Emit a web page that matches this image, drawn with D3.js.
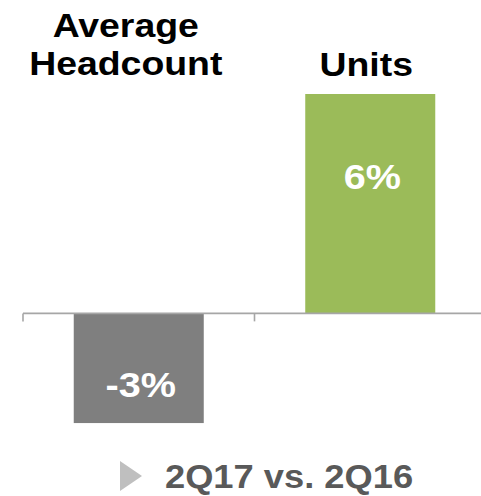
<!DOCTYPE html>
<html>
<head>
<meta charset="utf-8">
<script src="https://cdn.jsdelivr.net/npm/d3@7/dist/d3.min.js"></script>
<style>
  html, body { margin: 0; padding: 0; background: #ffffff; }
  svg { display: block; }
  text { font-family: "Liberation Sans", Arial, Helvetica, sans-serif; font-weight: bold; }
</style>
</head>
<body>
<svg id="chart" width="481" height="496"></svg>
<script>
// Year-over-year change, 2Q17 vs. 2Q16
const categories = ["Average Headcount", "Units"];
const categoryLines = [["Average", "Headcount"], ["Units"]];
const values = [-3, 6];
const valueLabels = ["-3%", "6%"];
const barColors = ["#7f7f7f", "#9bbb59"];
const footnote = "2Q17 vs. 2Q16";

const svg = d3.select("#chart");
const W = 481, H = 496;
const stretch = 1.1; // glyphs are drawn slightly wide

const x = d3.scaleBand().domain(categories).range([23, 486]).padding(0);
const y = d3.scaleLinear().domain([-3.6, 6]).range([445, 94]);
const y0 = y(0);
const barW = x.step() * 0.5616;

// bars
svg.selectAll("rect.bar")
  .data(categories)
  .join("rect")
  .attr("class", "bar")
  .attr("x", d => x(d) + (x.step() - barW) / 2)
  .attr("width", barW)
  .attr("y", (d, i) => y(Math.max(0, values[i])))
  .attr("height", (d, i) => Math.abs(y(values[i]) - y0))
  .attr("fill", (d, i) => barColors[i]);

// category axis at zero
const axisG = svg.append("g").attr("transform", `translate(0,${y0})`);
axisG.append("line")
  .attr("x1", x.range()[0]).attr("x2", W)
  .attr("stroke", "#a6a6a6").attr("stroke-width", 1.6);
const tickPos = categories.map(c => x(c)).concat([x.range()[1]]);
axisG.selectAll("line.tick")
  .data(tickPos)
  .join("line")
  .attr("class", "tick")
  .attr("x1", d => d).attr("x2", d => d)
  .attr("y1", 0).attr("y2", 8)
  .attr("stroke", "#a6a6a6").attr("stroke-width", 1.6);

function stretchedText(g, cx, cy, str, size, color) {
  return g.append("text")
    .attr("transform", `translate(${cx},${cy}) scale(${stretch},1)`)
    .attr("text-anchor", "middle")
    .attr("font-size", size)
    .attr("fill", color)
    .text(str);
}

// category titles above the plot
const titleOffsets = [-13, -4];
const titleBaselines = [[37, 75], [76]];
categories.forEach((c, i) => {
  const cx = x(c) + x.step() / 2 + titleOffsets[i];
  categoryLines[i].forEach((line, j) => {
    stretchedText(svg, cx, titleBaselines[i][j], line, "34px", "#000000");
  });
});

// value labels inside bars
categories.forEach((c, i) => {
  const cx = x(c) + x.step() / 2 + 2;
  const by = values[i] >= 0 ? y(values[i]) + 95 : y0 + 84;
  stretchedText(svg, cx, by, valueLabels[i], "36px", "#ffffff");
});

// footnote with arrow marker
svg.append("path")
  .attr("d", d3.line()([[120, 461], [142, 476], [120, 491]]) + "Z")
  .attr("fill", "#bfbfbf");
stretchedText(svg, 289, 488, footnote, "33px", "#595959");
</script>
</body>
</html>
